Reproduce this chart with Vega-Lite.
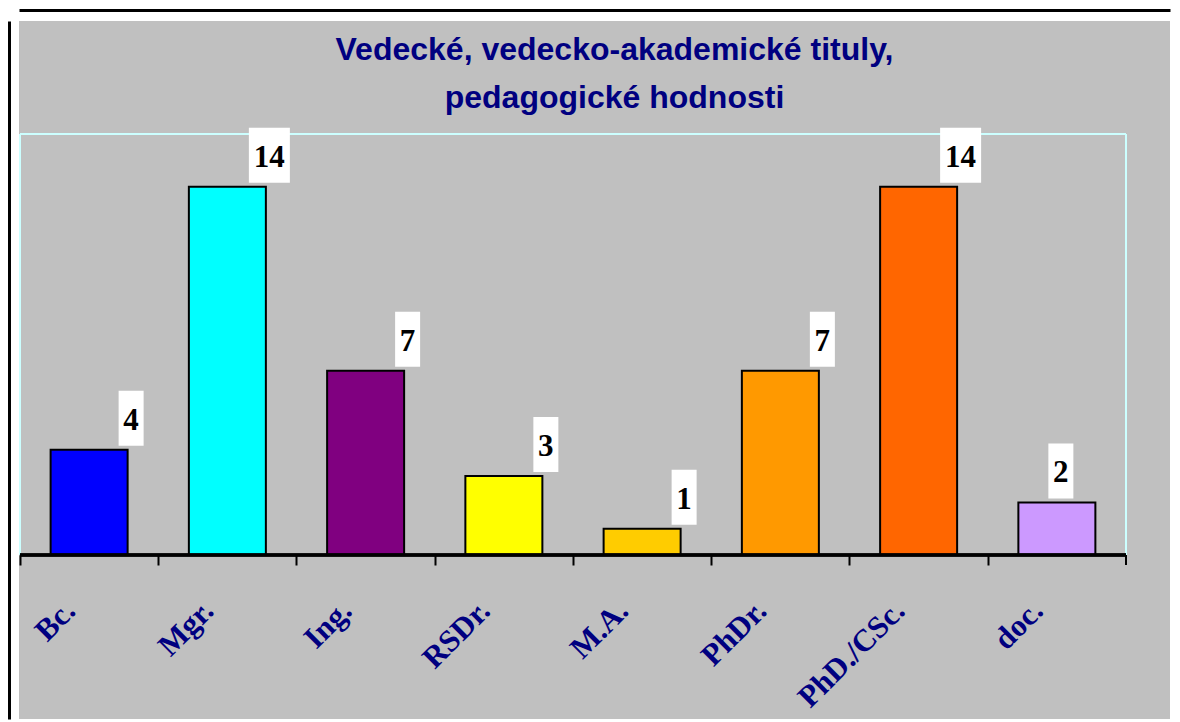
{
  "$schema": "https://vega.github.io/schema/vega-lite/v6.json",
  "width": 1151,
  "height": 698,
  "autosize": "none",
  "padding": {"left": 19, "top": 21, "right": 10, "bottom": 3},
  "background": "white",
  "title": {
    "text": ["Vedecké, vedecko-akademické tituly,", "pedagogické hodnosti"],
    "font": "Liberation Sans",
    "fontSize": 32,
    "fontWeight": "bold",
    "color": "#000080",
    "lineHeight": 48,
    "anchor": "middle",
    "frame": "group",
    "offset": -105,
    "dx": 20
  },
  "data": {
    "values": [
      {"t": "Bc.", "v": 4},
      {"t": "Mgr.", "v": 14},
      {"t": "Ing.", "v": 7},
      {"t": "RSDr.", "v": 3},
      {"t": "M.A.", "v": 1},
      {"t": "PhDr.", "v": 7},
      {"t": "PhD./CSc.", "v": 14},
      {"t": "doc.", "v": 2}
    ]
  },
  "layer": [
    {
      "mark": {"type": "rule", "color": "#CCFFFF", "strokeWidth": 2},
      "encoding": {
        "x": {"datum": "Bc.", "type": "nominal", "bandPosition": -0.3977, "axis": null},
        "y": {"datum": 0, "type": "quantitative"},
        "y2": {"datum": 16}
      }
    },
    {
      "mark": {"type": "rule", "color": "#CCFFFF", "strokeWidth": 2},
      "encoding": {
        "x": {"datum": "doc.", "type": "nominal", "bandPosition": 1.3977, "axis": null},
        "y": {"datum": 0, "type": "quantitative"},
        "y2": {"datum": 16}
      }
    },
    {
      "mark": {"type": "rule", "color": "#CCFFFF", "strokeWidth": 2},
      "encoding": {
        "x": {"datum": "Bc.", "type": "nominal", "bandPosition": -0.3977, "axis": null},
        "x2": {"datum": "doc.", "bandPosition": 1.3977},
        "y": {"datum": 16, "type": "quantitative"}
      }
    },
    {
      "mark": {"type": "bar", "stroke": "black", "strokeWidth": 2},
      "encoding": {
        "x": {
          "field": "t",
          "type": "nominal",
          "sort": null,
          "scale": {
            "domain": ["Bc.", "Mgr.", "Ing.", "RSDr.", "M.A.", "PhDr.", "PhD./CSc.", "doc."],
            "paddingInner": 0.443,
            "paddingOuter": 0.38425,
            "align": 0.2976
          },
          "axis": {
            "orient": "bottom",
            "offset": -164,
            "domain": false,
            "ticks": true,
            "tickColor": "black",
            "tickWidth": 2,
            "tickSize": 10,
            "tickOffset": -69.125,
            "labelAngle": -45,
            "labelAlign": "right",
            "labelBaseline": "middle",
            "labelFont": "Liberation Serif",
            "labelFontWeight": "bold",
            "labelFontSize": 31,
            "labelColor": "#000080",
            "labelPadding": 41,
            "labelOffset": 50.125,
            "title": null,
            "grid": false,
            "zindex": 1
          }
        },
        "y": {
          "field": "v",
          "type": "quantitative",
          "scale": {"domain": [-6.2328, 20.2946], "zero": false, "nice": false},
          "axis": {
            "orient": "left",
            "offset": 10,
            "domain": true,
            "domainColor": "black",
            "domainWidth": 3,
            "labels": false,
            "ticks": false,
            "grid": false,
            "title": null
          }
        },
        "color": {
          "field": "t",
          "type": "nominal",
          "scale": {
            "domain": ["Bc.", "Mgr.", "Ing.", "RSDr.", "M.A.", "PhDr.", "PhD./CSc.", "doc."],
            "range": ["#0000FF", "#00FFFF", "#800080", "#FFFF00", "#FFCC00", "#FF9900", "#FF6600", "#CC99FF"]
          },
          "legend": null
        }
      }
    },
    {
      "mark": {"type": "rule", "color": "black", "strokeWidth": 2.5},
      "encoding": {
        "x": {"datum": "Bc.", "type": "nominal", "bandPosition": -0.3977, "axis": null},
        "x2": {"datum": "doc.", "bandPosition": 1.3977},
        "y": {"datum": 0, "type": "quantitative"}
      }
    },
    {
      "mark": {"type": "rule", "color": "black", "strokeWidth": 2},
      "encoding": {
        "x": {"datum": "doc.", "type": "nominal", "bandPosition": 1.3977, "axis": null},
        "y": {"datum": 0, "type": "quantitative"},
        "y2": {"datum": -0.38}
      }
    },
    {
      "transform": [{"filter": "datum.v < 10 && datum.t != 'doc.'"}],
      "mark": {"type": "point", "shape": "M-12.5,-59L12.5,-59L12.5,-4L-12.5,-4Z", "size": 4, "filled": true, "fill": "white", "strokeWidth": 0, "opacity": 1, "xOffset": 42},
      "encoding": {
        "x": {"field": "t", "type": "nominal", "axis": null},
        "y": {"field": "v", "type": "quantitative"}
      }
    },
    {
      "transform": [{"filter": "datum.v >= 10"}],
      "mark": {"type": "point", "shape": "M-20.5,-59L20.5,-59L20.5,-4L-20.5,-4Z", "size": 4, "filled": true, "fill": "white", "strokeWidth": 0, "opacity": 1, "xOffset": 42},
      "encoding": {
        "x": {"field": "t", "type": "nominal", "axis": null},
        "y": {"field": "v", "type": "quantitative"}
      }
    },
    {
      "transform": [{"filter": "datum.t == 'doc.'"}],
      "mark": {"type": "point", "shape": "M-12.5,-59L12.5,-59L12.5,-4L-12.5,-4Z", "size": 4, "filled": true, "fill": "white", "strokeWidth": 0, "opacity": 1, "xOffset": 4},
      "encoding": {
        "x": {"field": "t", "type": "nominal", "axis": null},
        "y": {"field": "v", "type": "quantitative"}
      }
    },
    {
      "transform": [{"filter": "datum.t != 'doc.'"}],
      "mark": {"type": "text", "font": "Liberation Serif", "fontWeight": "bold", "fontSize": 31, "color": "black", "align": "center", "baseline": "alphabetic", "dy": -20, "dx": 42},
      "encoding": {
        "x": {
          "field": "t",
          "type": "nominal",
          "axis": {
            "orient": "top",
            "offset": 11,
            "domain": true,
            "domainColor": "black",
            "domainWidth": 3,
            "labels": false,
            "ticks": false,
            "grid": false,
            "title": null
          }
        },
        "y": {"field": "v", "type": "quantitative"},
        "text": {"field": "v", "type": "quantitative"}
      }
    },
    {
      "transform": [{"filter": "datum.t == 'doc.'"}],
      "mark": {"type": "text", "font": "Liberation Serif", "fontWeight": "bold", "fontSize": 31, "color": "black", "align": "center", "baseline": "alphabetic", "dy": -20, "dx": 4},
      "encoding": {
        "x": {"field": "t", "type": "nominal", "axis": null},
        "y": {"field": "v", "type": "quantitative"},
        "text": {"field": "v", "type": "quantitative"}
      }
    }
  ],
  "resolve": {"axis": {"x": "independent"}},
  "config": {"view": {"fill": "#C0C0C0", "stroke": null}}
}
